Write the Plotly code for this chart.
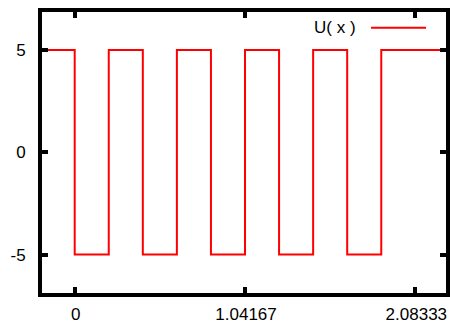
import plotly.graph_objects as go

# Breakpoints of the square wave U(x) (step held until the next x)
x_edges = [-0.208333, 0.0, 0.208333, 0.416667, 0.625, 0.833333, 1.041667,
           1.25, 1.458333, 1.666667, 1.875, 2.291667]
u_values = [5, -5, 5, -5, 5, -5, 5, -5, 5, -5, 5, 5]

x_ticks = [0.0, 1.041667, 2.083333]
x_tick_text = ["0", "1.04167", "2.08333"]
y_ticks = [-5, 0, 5]
y_tick_text = ["-5", "0", "5"]

series_name = "U( x )"
line_color = "#ff0000"
font_family = "Liberation Sans, Arial, sans-serif"

fig = go.Figure()
fig.add_trace(go.Scatter(
    x=x_edges, y=u_values, mode="lines", line_shape="hv",
    line=dict(color=line_color, width=2), name=series_name, showlegend=False,
))

axis_common = dict(
    showline=True, linecolor="black", linewidth=4, mirror="ticks",
    ticks="inside", ticklen=6, tickwidth=4, tickcolor="black",
    showgrid=False, zeroline=False, automargin=False,
    tickfont=dict(family=font_family, size=17, color="black"),
)

fig.update_xaxes(range=[-0.2, 2.271], tickvals=x_ticks, ticktext=x_tick_text,
                 ticklabelstandoff=3, ticklabelshift=1, **axis_common)
fig.update_yaxes(range=[-6.877, 6.863], tickvals=y_ticks, ticktext=y_tick_text,
                 ticklabelstandoff=9, **axis_common)

# gnuplot-style key: label on the left, line sample on the right
fig.add_annotation(
    x=0.783, y=0.944, xref="paper", yref="paper", text=series_name,
    showarrow=False, xanchor="right", yanchor="middle",
    font=dict(family=font_family, size=17, color="black"),
)
fig.add_shape(type="line", xref="paper", yref="paper",
              x0=0.8144, x1=0.9505, y0=0.944, y1=0.944,
              line=dict(color=line_color, width=2))

fig.update_layout(
    width=450, height=325,
    margin=dict(l=42, r=4, t=12, b=32),
    paper_bgcolor="white", plot_bgcolor="white",
)

fig.write_html("out.html")
